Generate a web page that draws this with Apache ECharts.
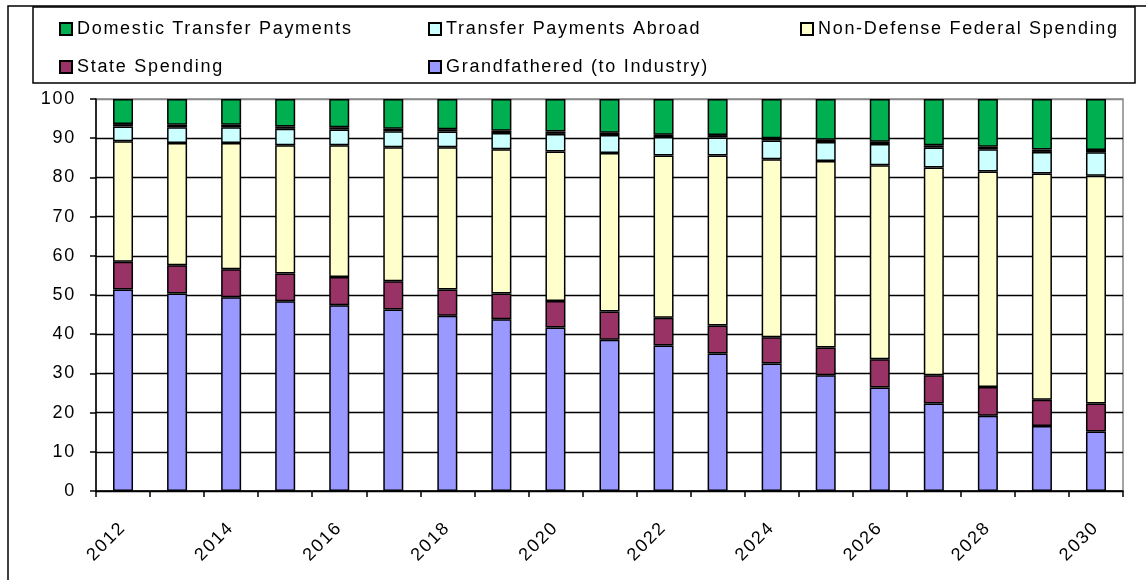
<!DOCTYPE html>
<html>
<head>
<meta charset="utf-8">
<script src="https://cdn.jsdelivr.net/npm/echarts@6/dist/echarts.min.js"></script>
<style>
html,body{margin:0;padding:0;background:#fff;}
#chart{width:1146px;height:580px;}
</style>
</head>
<body>
<div id="chart"></div>
<script>
// ---- data ----
const years = ['2012','2013','2014','2015','2016','2017','2018','2019','2020','2021','2022','2023','2024','2025','2026','2027','2028','2029','2030'];
const grandfathered = [51.4,50.4,49.4,48.4,47.4,46.3,44.7,43.8,41.7,38.6,37.1,35.1,32.5,29.5,26.4,22.3,19.2,16.6,15.2];
const stateSpending = [7.1,7.2,7.2,7.1,7.2,7.2,6.7,6.6,6.8,7.2,7.1,7.1,6.7,7.1,7.2,7.2,7.3,6.7,7.1];
const nonDefense = [30.7,31.2,32.2,32.7,33.6,34.2,36.3,36.8,38.1,40.4,41.4,43.4,45.4,47.6,49.5,53.0,55.0,57.7,58.1];
const abroad = [3.8,4.0,4.0,4.2,4.0,4.1,4.0,4.1,4.5,4.6,4.7,4.6,4.8,4.8,5.4,5.1,5.7,5.5,6.0];
const unlabelled = [0.6,0.6,0.6,0.6,0.6,0.6,0.6,0.6,0.6,0.6,0.6,0.6,0.6,0.6,0.6,0.6,0.6,0.6,0.6];
const domestic = [6.4,6.6,6.6,7.0,7.2,7.6,7.7,8.1,8.3,8.6,9.1,9.2,10.0,10.4,10.9,11.8,12.2,12.9,13.0];
const yTicks = [0,10,20,30,40,50,60,70,80,90,100];

const names = {
  dom: 'Domestic Transfer Payments',
  abr: 'Transfer Payments Abroad',
  non: 'Non-Defense Federal Spending',
  st: 'State Spending',
  gf: 'Grandfathered (to Industry)'
};

// widen glyph spacing slightly, like the original's text rendering
(function(){
  const proto = CanvasRenderingContext2D.prototype;
  const desc = Object.getOwnPropertyDescriptor(proto, 'font');
  if (desc && desc.set && ('letterSpacing' in proto)) {
    Object.defineProperty(proto, 'font', {
      configurable: true,
      get: function(){ return desc.get.call(this); },
      set: function(v){ desc.set.call(this, v); try { this.letterSpacing = '1.7px'; } catch(e){} }
    });
  }
})();

const FONT = "'Liberation Sans', Arial, sans-serif";
const chart = echarts.init(document.getElementById('chart'), null, {renderer:'canvas'});

function bar(name, data, color) {
  return {
    name: name, type: 'bar', stack: 'total', data: data, barWidth: 20,
    itemStyle: {color: color, borderColor: '#000', borderWidth: 1.5},
    emphasis: {disabled: true}
  };
}

function legend(name, left, top) {
  return {
    data: [name], left: left, top: top, padding: 0,
    itemWidth: 12, itemHeight: 12, itemGap: 0,
    icon: 'rect',
    textStyle: {fontFamily: FONT, fontSize: 18, color: '#000', lineHeight: 20, padding: [0,0,0,0]},
    selectedMode: false
  };
}

const gridColors = yTicks.map((v, i) => i === yTicks.length - 1 ? '#888' : '#000');

chart.setOption({
  animation: false,
  backgroundColor: '#fff',
  textStyle: {fontFamily: FONT},
  graphic: [
    {type: 'rect', shape: {x: 8, y: 6, width: 1200, height: 620}, style: {fill: 'none', stroke: '#000', lineWidth: 1.5}, silent: true, z: -1},
    {type: 'rect', shape: {x: 33, y: 7, width: 1102, height: 76}, style: {fill: 'none', stroke: '#000', lineWidth: 1.5}, silent: true, z: -1}
  ],
  legend: [
    legend(names.dom, 59, 19),
    legend(names.abr, 428, 19),
    legend(names.non, 800, 19),
    legend(names.st, 59, 57),
    legend(names.gf, 428, 57)
  ],
  grid: {left: 96, right: 23, top: 99, bottom: 89, show: true, borderColor: '#888', borderWidth: 1.5, backgroundColor: '#fff'},
  xAxis: {
    type: 'category', data: years, boundaryGap: true,
    axisLine: {lineStyle: {color: '#000', width: 1.5}},
    axisTick: {show: true, interval: 0, length: 6, lineStyle: {color: '#000', width: 1.5}},
    axisLabel: {interval: 1, rotate: 45, margin: 34, fontSize: 18, color: '#000', fontFamily: FONT}
  },
  yAxis: {
    type: 'value', min: 0, max: 100, interval: 10,
    axisLine: {show: true, lineStyle: {color: '#000', width: 1.5}},
    axisTick: {show: true, length: 6, lineStyle: {color: '#000', width: 1.5}},
    axisLabel: {margin: 20, fontSize: 18, color: '#000', fontFamily: FONT},
    splitLine: {show: true, lineStyle: {color: gridColors, width: 1.3}}
  },
  series: [
    bar(names.gf, grandfathered, '#9999FF'),
    bar(names.st, stateSpending, '#993366'),
    bar(names.non, nonDefense, '#FFFFCC'),
    bar(names.abr, abroad, '#CCFFFF'),
    bar('Unlabelled', unlabelled, '#FFFFFF'),
    bar(names.dom, domestic, '#00B050')
  ]
});
</script>
</body>
</html>
